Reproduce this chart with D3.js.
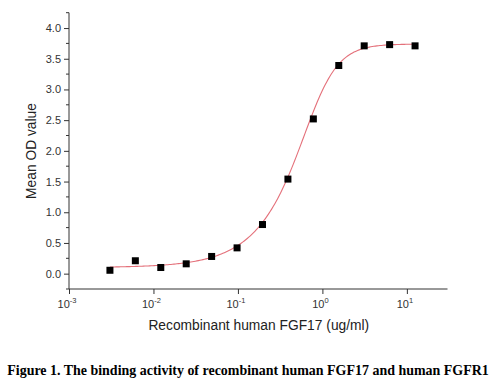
<!DOCTYPE html>
<html><head><meta charset="utf-8">
<script src="https://cdn.jsdelivr.net/npm/d3@7"></script>
<style>body{margin:0;background:#fff}svg{display:block}</style>
</head><body>
<svg id="c" width="498" height="392"></svg>
<script>
// Data
const concentrations = [0.0030518, 0.0061035, 0.012207, 0.024414, 0.048828, 0.097656, 0.19531, 0.39063, 0.78125, 1.5625, 3.125, 6.25, 12.5];
const odValues = [0.055, 0.21, 0.10, 0.16, 0.28, 0.42, 0.80, 1.54, 2.52, 3.39, 3.71, 3.73, 3.71];
// fitted dose-response (5-parameter logistic) parameters
const fitParams = {bottom: 0.10, top: 3.74, ec: 0.85, hill: 2.4, asym: 0.45};
const xTickValues = [1e-3, 1e-2, 1e-1, 1, 10];
const xTickExponents = ["-3", "-2", "-1", "0", "1"];
const yTickValues = [0, 0.5, 1, 1.5, 2, 2.5, 3, 3.5, 4];
const yLabel = "Mean OD value";
const xLabel = "Recombinant human FGF17 (ug/ml)";
const caption = "Figure 1. The binding activity of recombinant human FGF17 and human FGFR1";

const svg = d3.select("#c");
const L = 69, R = 447.5, T = 12.7, B = 289;
const x = d3.scaleLog().domain([1e-3, Math.pow(10, 1.481)]).range([L, R]);
const y = d3.scaleLinear().domain([-0.25, 4.25]).range([B, T]);
const axisColor = "#333";

// curve
function fit(c) {
  const p = fitParams;
  return p.bottom + (p.top - p.bottom) / Math.pow(1 + Math.pow(p.ec / c, p.hill), p.asym);
}
const lx0 = Math.log10(concentrations[0]), lx1 = Math.log10(concentrations[concentrations.length - 1]);
const curvePts = d3.range(0, 201).map(i => Math.pow(10, lx0 + (lx1 - lx0) * i / 200));
svg.append("path")
  .datum(curvePts)
  .attr("fill", "none").attr("stroke", "#e4707a").attr("stroke-width", 1.1)
  .attr("d", d3.line().x(d => x(d)).y(d => y(fit(d))));

// points
const s = 7;
svg.append("g").selectAll("rect").data(concentrations).join("rect")
  .attr("x", (d) => x(d) - s / 2)
  .attr("y", (d, i) => y(odValues[i]) - s / 2)
  .attr("width", s).attr("height", s)
  .attr("fill", "#000");

// Y axis
const yAxis = svg.append("g").attr("transform", `translate(${L},0)`)
  .call(d3.axisLeft(y).tickValues(yTickValues).tickFormat(d3.format(".1f")).tickSize(5).tickPadding(3));
yAxis.select(".domain").attr("d", `M0,${T}V${B}`);
const yMinor = d3.range(-0.25, 4.3, 0.5);
yAxis.selectAll(".minor").data(yMinor).join("line").attr("class", "minor")
  .attr("x1", -3).attr("x2", 0).attr("y1", d => y(d)).attr("y2", d => y(d));

// X axis
const xAxis = svg.append("g").attr("transform", `translate(0,${B})`)
  .call(d3.axisBottom(x).tickValues(xTickValues).tickFormat("").tickSize(5));
xAxis.select(".domain").attr("d", `M${L},0H${R}`);
const xt = xAxis.selectAll(".xl").data(xTickValues).join("text").attr("class", "xl")
  .attr("x", d => x(d) - 2).attr("y", 19).attr("text-anchor", "middle")
  .attr("font-size", 11).attr("fill", axisColor);
xt.append("tspan").text("10");
xt.append("tspan").attr("dy", -5).attr("font-size", 7.5).text((d, i) => xTickExponents[i]);

[yAxis, xAxis].forEach(g => {
  g.selectAll("path, line").attr("stroke", axisColor).attr("stroke-width", 1);
  g.selectAll("text").attr("font-family", "Liberation Sans, Arial, sans-serif").attr("fill", axisColor);
});
yAxis.selectAll(".tick text").attr("font-size", 11);

// labels
svg.append("text").attr("transform", `translate(36,151) rotate(-90)`)
  .attr("text-anchor", "middle").attr("font-family", "Liberation Sans, Arial, sans-serif")
  .attr("font-size", 13.8).attr("fill", "#222").text(yLabel);
svg.append("text").attr("x", 258.8).attr("y", 329.5)
  .attr("text-anchor", "middle").attr("font-family", "Liberation Sans, Arial, sans-serif")
  .attr("font-size", 13.8).attr("fill", "#222").text(xLabel);
const cap = svg.append("text").attr("x", 248).attr("y", 375)
  .attr("text-anchor", "middle").attr("font-family", "Liberation Serif, Times New Roman, serif")
  .attr("font-weight", "bold").attr("font-size", 14).attr("fill", "#000").text(caption);
const w = cap.node().getComputedTextLength();
cap.attr("font-size", 14 * 482 / w);
</script>
</body></html>
